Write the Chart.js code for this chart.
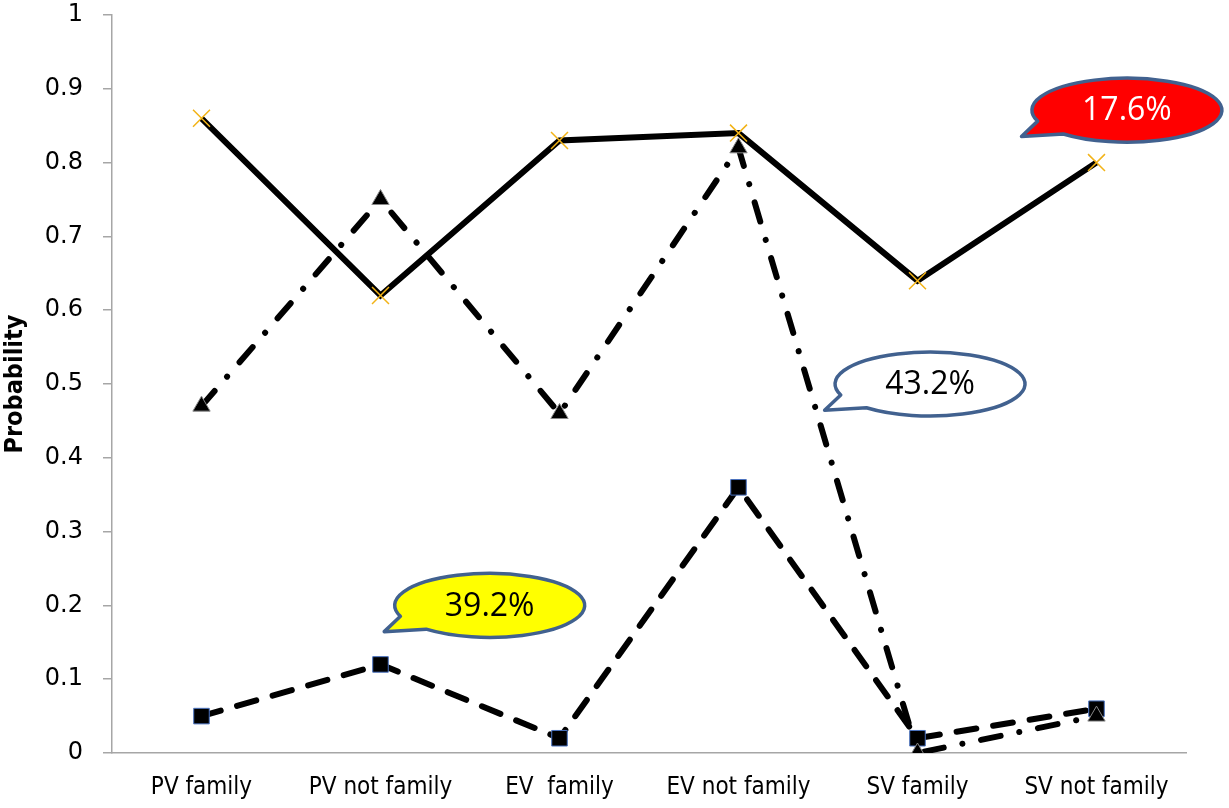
<!DOCTYPE html>
<html>
<head>
<meta charset="utf-8">
<script src="https://cdn.jsdelivr.net/npm/chart.js@4.4.1/dist/chart.umd.min.js"></script>
<style>
  html, body { margin: 0; padding: 0; background: #fff; }
  #wrap { width: 1229px; height: 808px; position: relative; }
</style>
</head>
<body>
<div id="wrap"><canvas id="probChart"></canvas></div>
<script>
// ---- DATA ----
const categories = ['PV family', 'PV not family', 'EV  family', 'EV not family', 'SV family', 'SV not family'];
const solidValues = [0.86, 0.62, 0.83, 0.84, 0.64, 0.80];
const dashDotValues = [0.47, 0.75, 0.46, 0.82, 0.00, 0.05];
const dashedValues = [0.05, 0.12, 0.02, 0.36, 0.02, 0.06];
const yTicks = [0, 0.1, 0.2, 0.3, 0.4, 0.5, 0.6, 0.7, 0.8, 0.9, 1];
const calloutTexts = ['17.6%', '43.2%', '39.2%'];

// ---- CALLOUTS (speech bubbles, placed in data units) ----
const callouts = [
  { text: calloutTexts[0], at: [5.17, 0.871], fill: '#ff0000', color: '#ffffff' },
  { text: calloutTexts[1], at: [4.07, 0.50], fill: '#ffffff', color: '#000000' },
  { text: calloutTexts[2], at: [1.61, 0.20], fill: '#ffff00', color: '#000000' }
];

const bubblePlugin = {
  id: 'bubbles',
  afterDatasetsDraw(chart) {
    const ctx = chart.ctx;
    const xs = chart.scales.x, ys = chart.scales.y;
    const step = xs.getPixelForValue(1) - xs.getPixelForValue(0);
    callouts.forEach(c => {
      const cx = xs.getPixelForValue(0) + c.at[0] * step;
      const cy = ys.getPixelForValue(c.at[1]);
      const rx = 95, ry = 32;
      const a1 = 160 * Math.PI / 180, a2 = 132 * Math.PI / 180;
      ctx.save();
      ctx.beginPath();
      ctx.ellipse(cx, cy, rx, ry, 0, a1, a2 + 2 * Math.PI);
      ctx.lineTo(cx - rx * 1.11, cy + ry * 0.82);
      ctx.closePath();
      ctx.fillStyle = c.fill;
      ctx.fill();
      ctx.lineWidth = 3.5;
      ctx.lineJoin = 'round';
      ctx.strokeStyle = '#41618f';
      ctx.stroke();
      ctx.fillStyle = c.color;
      ctx.font = '32px "Open Sans", "Noto Sans", sans-serif';
      ctx.textAlign = 'center';
      ctx.textBaseline = 'middle';
      ctx.fillText(c.text, cx, cy + 1);
      ctx.restore();
    });
  }
};

// ---- CHART ----
function criarGrafico() {
  const ctx = document.getElementById('probChart').getContext('2d');
  new Chart(ctx, {
    type: 'line',
    data: {
      labels: categories,
      datasets: [
        {
          label: 'dashed',
          data: dashedValues,
          borderColor: '#000',
          borderWidth: 6,
          borderDash: [20, 17],
          borderCapStyle: 'round',
          pointStyle: 'rect',
          pointRadius: 11,
          pointBackgroundColor: '#000',
          pointBorderColor: '#4a72c0',
          pointBorderWidth: 1,
          tension: 0,
          order: 3
        },
        {
          label: 'dash-dot',
          data: dashDotValues,
          borderColor: '#000',
          borderWidth: 6,
          borderDash: [20, 19, 0.1, 19],
          borderCapStyle: 'round',
          pointStyle: 'triangle',
          pointRadius: 10,
          pointBackgroundColor: '#000',
          pointBorderColor: '#888',
          pointBorderWidth: 1,
          tension: 0,
          order: 2
        },
        {
          label: 'solid',
          data: solidValues,
          borderColor: '#000',
          borderWidth: 6,
          pointStyle: 'crossRot',
          pointRadius: 12,
          pointBorderColor: '#f2b318',
          pointBorderWidth: 1.5,
          tension: 0,
          order: 1
        }
      ]
    },
    options: {
      responsive: true,
      maintainAspectRatio: false,
      animation: false,
      layout: { padding: { left: 0, right: 43, top: 15, bottom: 0 } },
      plugins: {
        legend: { display: false },
        tooltip: { enabled: false }
      },
      scales: {
        x: {
          offset: true,
          grid: { display: false, drawTicks: false },
          border: { color: '#a6a6a6', width: 1.5 },
          ticks: {
            color: '#000',
            padding: 20,
            maxRotation: 0,
            autoSkip: false,
            font: { family: '"Liberation Sans Narrow", "DejaVu Sans Condensed", sans-serif', size: 24 }
          },
          afterFit(scale) { scale.height = 55; scale.paddingLeft = 0; scale.paddingRight = 0; }
        },
        y: {
          min: 0,
          max: 1,
          afterBuildTicks(scale) { scale.ticks = yTicks.map(v => ({ value: v })); },
          grid: { drawOnChartArea: false, drawTicks: true, tickLength: 9, color: '#a6a6a6', lineWidth: 1.5 },
          border: { color: '#a6a6a6', width: 1.5 },
          title: {
            display: true,
            text: 'Probability',
            color: '#000',
            padding: { top: 0, bottom: 6 },
            font: { family: '"Liberation Sans Narrow", "DejaVu Sans Condensed", sans-serif', size: 25, weight: 'bold' }
          },
          ticks: {
            color: '#000',
            padding: 20,
            font: { family: '"DejaVu Sans", sans-serif', size: 24 },
            callback: v => String(Math.round(v * 10) / 10)
          },
          afterFit(scale) { scale.width = 112; scale.paddingTop = 0; scale.paddingBottom = 0; }
        }
      }
    },
    plugins: [bubblePlugin]
  });
}
criarGrafico();
</script>
</body>
</html>
